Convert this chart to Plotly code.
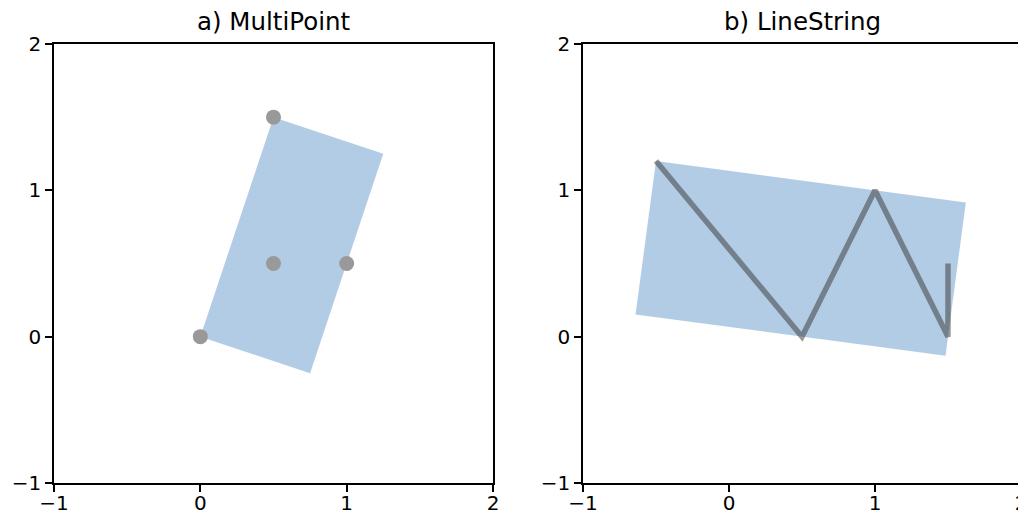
import plotly.graph_objects as go

# a) MultiPoint
mp_x = [0, 0.5, 0.5, 1]
mp_y = [0, 1.5, 0.5, 0.5]
mp_rect_x = [0, 0.75, 1.25, 0.5, 0]
mp_rect_y = [0, -0.25, 1.25, 1.5, 0]

# b) LineString
ls_x = [-0.5, 0.5, 1, 1.5, 1.5]
ls_y = [1.2, 0, 1, 0, 0.5]
ls_rect_x = [-0.5, 1.622, 1.483, -0.640, -0.5]
ls_rect_y = [1.2, 0.917, -0.131, 0.152, 1.2]

titles = ["a) MultiPoint", "b) LineString"]
tick_vals = [-1, 0, 1, 2]

BLUE_FILL = "rgba(102,153,204,0.5)"
GRAY = "#999999"
LINE_COL = "rgba(51,51,51,0.5)"

OFF = 8  # page body margin
W, H = 1026 - OFF, 518 - OFF

fig = go.Figure()

fig.add_trace(go.Scatter(x=mp_rect_x, y=mp_rect_y, fill="toself", fillcolor=BLUE_FILL,
                         mode="lines", line=dict(width=0, color="rgba(0,0,0,0)"),
                         xaxis="x", yaxis="y", showlegend=False, hoverinfo="skip"))
fig.add_trace(go.Scatter(x=mp_x, y=mp_y, mode="markers",
                         marker=dict(size=15, color=GRAY),
                         xaxis="x", yaxis="y", showlegend=False))

fig.add_trace(go.Scatter(x=ls_rect_x, y=ls_rect_y, fill="toself", fillcolor=BLUE_FILL,
                         mode="lines", line=dict(width=0, color="rgba(0,0,0,0)"),
                         xaxis="x2", yaxis="y2", showlegend=False, hoverinfo="skip"))
fig.add_trace(go.Scatter(x=ls_x, y=ls_y, mode="lines",
                         line=dict(width=5.5, color=LINE_COL),
                         xaxis="x2", yaxis="y2", showlegend=False))

top_px, bot_px = 44 - OFF, 483 - OFF
ydom = [(H - bot_px) / H, (H - top_px) / H]
x1dom = [(54 - OFF) / W, (493 - OFF) / W]
x2dom = [(583 - OFF) / W, min(1.0, (1021 - OFF) / W)]

axis_common = dict(range=[-1, 2], tickvals=tick_vals, showgrid=False, zeroline=False,
                   showline=True, linecolor="black", linewidth=1.6, mirror=True,
                   ticks="outside", ticklen=7, tickwidth=1.6, tickcolor="black",
                   tickfont=dict(family="DejaVu Sans", size=20, color="black"),
                   fixedrange=True, automargin=False, ticklabeloverflow="allow")

title_font = dict(family="DejaVu Sans", size=24.5, color="black")

fig.update_layout(
    width=W, height=H,
    margin=dict(l=0, r=0, t=0, b=0),
    paper_bgcolor="white", plot_bgcolor="white",
    xaxis=dict(domain=x1dom, anchor="y", ticklabelstandoff=-6, **axis_common),
    yaxis=dict(domain=ydom, anchor="x", **axis_common),
    xaxis2=dict(domain=x2dom, anchor="y2", ticklabelstandoff=-6, **axis_common),
    yaxis2=dict(domain=ydom, anchor="x2", **axis_common),
    annotations=[
        dict(text=titles[0], x=sum(x1dom) / 2, y=ydom[1], xref="paper", yref="paper",
             xanchor="center", yanchor="bottom", yshift=6, showarrow=False, font=title_font),
        dict(text=titles[1], x=sum(x2dom) / 2, y=ydom[1], xref="paper", yref="paper",
             xanchor="center", yanchor="bottom", yshift=6, showarrow=False, font=title_font),
    ],
)

fig.write_html("out.html")
